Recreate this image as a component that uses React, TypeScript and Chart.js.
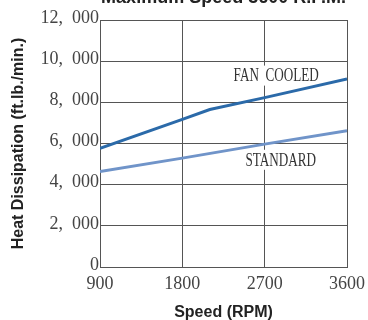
import React, { useEffect, useRef } from "react";
import { Chart, registerables } from "chart.js";

Chart.register(...registerables);

const titleText = "Maximum Speed 3600 R.P.M.";
const xAxisTitle = "Speed (RPM)";
const yAxisTitle = "Heat Dissipation (ft.lb./min.)";

const xTickValues = [900, 1800, 2700, 3600];
const xTickLabels = ["900", "1800", "2700", "3600"];
const yTickValues = [0, 2000, 4000, 6000, 8000, 10000, 12000];
const yTickLabels = ["0", "2,\u2002000", "4,\u2002000", "6,\u2002000", "8,\u2002000", "10,\u2002000", "12,\u2002000"];

const fanRpm = [900, 1800, 2100, 2700, 3600];
const fanValues = [5770, 7170, 7650, 8230, 9140];
const stdRpm = [900, 1800, 2700, 3600];
const stdValues = [4640, 5290, 5970, 6620];

const curveLabelTexts = ["FAN  COOLED", "STANDARD"];
const curveLabelRpm = [2826, 2875];
const curveLabelValues = [9250, 5160];

const curveLabelPlugin = {
  id: "curveLabels",
  beforeDatasetsDraw(chart: any) {
    const { ctx, scales } = chart;
    const xs = scales.x;
    const ys = scales.y;
    const sx = 0.73;
    curveLabelTexts.forEach((text, i) => {
      const px = xs.getPixelForValue(curveLabelRpm[i]);
      const py = ys.getPixelForValue(curveLabelValues[i]);
      ctx.save();
      ctx.font = '18px "Liberation Serif"';
      const w = ctx.measureText(text).width * sx;
      ctx.fillStyle = "#ffffff";
      ctx.fillRect(px - w / 2 - 4, py - 11, w + 8, 20);
      ctx.translate(px, py);
      ctx.scale(sx, 1);
      ctx.fillStyle = "#333333";
      ctx.textAlign = "center";
      ctx.textBaseline = "middle";
      ctx.fillText(text, 0, 0);
      ctx.restore();
    });
  },
};

export default function App() {
  const canvasRef = useRef<HTMLCanvasElement | null>(null);

  useEffect(() => {
    const canvas = canvasRef.current;
    if (!canvas) return;
    const chart = new Chart(canvas, {
      type: "line",
      data: {
        datasets: [
          {
            label: "FAN COOLED",
            data: fanRpm.map((r, i) => ({ x: r, y: fanValues[i] })),
            borderColor: "#2b6aa9",
            borderWidth: 3,
            pointRadius: 0,
            fill: false,
            tension: 0,
          },
          {
            label: "STANDARD",
            data: stdRpm.map((r, i) => ({ x: r, y: stdValues[i] })),
            borderColor: "#7094c9",
            borderWidth: 3,
            pointRadius: 0,
            fill: false,
            tension: 0,
          },
        ],
      },
      options: {
        animation: false,
        responsive: false,
        devicePixelRatio: 1,
        layout: { padding: { top: 0, right: 30, bottom: 0, left: 0 } },
        plugins: {
          legend: { display: false },
          tooltip: { enabled: false },
          title: {
            display: true,
            text: titleText,
            fullSize: false,
            color: "#222222",
            font: { family: '"Liberation Sans", Arial, sans-serif', size: 18, weight: "bold", lineHeight: 1.2 },
            padding: { top: 7, bottom: 11.4 },
          },
        },
        scales: {
          x: {
            type: "linear",
            min: 900,
            max: 3600,
            afterBuildTicks: (scale: any) => {
              scale.ticks = xTickValues.map((v) => ({ value: v }));
            },
            afterFit: (scale: any) => {
              scale.height = 58;
            },
            grid: { color: "#555555", lineWidth: 1, drawTicks: false },
            border: { color: "#555555", width: 1 },
            ticks: {
              padding: 6,
              color: "#444444",
              font: { family: '"Liberation Serif", serif', size: 18 },
              callback: (v: any) => xTickLabels[xTickValues.indexOf(Number(v))] ?? "",
            },
            title: {
              display: true,
              text: xAxisTitle,
              color: "#222222",
              font: { family: '"Liberation Sans", Arial, sans-serif', size: 16, weight: "bold", lineHeight: 1.2 },
              padding: { top: 0, bottom: 3 },
            },
          },
          y: {
            type: "linear",
            min: 0,
            max: 12000,
            afterBuildTicks: (scale: any) => {
              scale.ticks = yTickValues.map((v) => ({ value: v }));
            },
            afterFit: (scale: any) => {
              scale.width = 100;
            },
            grid: { color: "#555555", lineWidth: 1, drawTicks: false },
            border: { color: "#555555", width: 1 },
            ticks: {
              padding: 1,
              labelOffset: -2,
              color: "#444444",
              font: { family: '"Liberation Serif", serif', size: 18 },
              callback: (v: any) => yTickLabels[yTickValues.indexOf(Number(v))] ?? "",
            },
            title: {
              display: true,
              text: yAxisTitle,
              color: "#222222",
              font: { family: '"Liberation Sans", Arial, sans-serif', size: 16, weight: "bold", lineHeight: 1.2 },
              padding: { top: 9, bottom: 0 },
            },
          },
        },
      },
      plugins: [curveLabelPlugin],
    } as any);
    return () => chart.destroy();
  }, []);

  return (
    <div style={{ position: "fixed", left: 0, top: 0, width: 368, height: 320, overflow: "hidden", background: "#ffffff" }}>
      <div style={{ position: "absolute", left: 0, top: -20, width: 377, height: 345 }}>
        <canvas ref={canvasRef} width={377} height={345} style={{ width: 377, height: 345, display: "block" }} />
      </div>
    </div>
  );
}
